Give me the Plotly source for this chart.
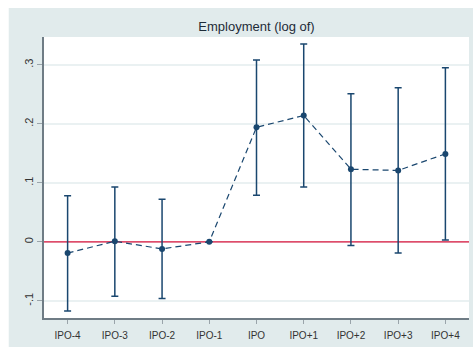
import plotly.graph_objects as go

categories = ["IPO-4", "IPO-3", "IPO-2", "IPO-1", "IPO", "IPO+1", "IPO+2", "IPO+3", "IPO+4"]
coef = [-0.019, 0.001, -0.012, 0.0, 0.194, 0.214, 0.123, 0.121, 0.149]
ci_hi = [0.078, 0.093, 0.072, None, 0.308, 0.335, 0.251, 0.261, 0.295]
ci_lo = [-0.117, -0.092, -0.096, None, 0.079, 0.093, -0.006, -0.019, 0.003]
ytick_vals = [-0.1, 0, 0.1, 0.2, 0.3]
ytick_text = ["-.1", "0", ".1", ".2", ".3"]
title_text = "Employment (log of)"
x_range = [-0.5, 8.5]
ref_value = 0.0

err_plus = [(h - c) if h is not None else None for h, c in zip(ci_hi, coef)]
err_minus = [(c - l) if l is not None else None for l, c in zip(ci_lo, coef)]

navy = "#1a476f"
red = "#dc143c"
bg = "#e1ebec"
font_family = "Liberation Sans, Arial, sans-serif"

fig = go.Figure()
# zero reference line (drawn first so it sits beneath the estimates)
fig.add_trace(go.Scatter(
    x=x_range, y=[ref_value, ref_value], mode="lines",
    line=dict(color=red, width=1.4), hoverinfo="skip", showlegend=False,
))
fig.add_trace(go.Scatter(
    x=list(range(len(categories))), y=coef,
    mode="lines+markers",
    line=dict(color=navy, width=1.2, dash="6px,4px"),
    marker=dict(color=navy, size=6),
    error_y=dict(type="data", array=err_plus, arrayminus=err_minus,
                 color=navy, thickness=1.5, width=3.5, symmetric=False),
    showlegend=False,
))

fig.update_layout(
    width=473, height=347,
    margin=dict(l=44, r=4, t=37, b=29),
    paper_bgcolor=bg,
    plot_bgcolor="white",
    font=dict(family=font_family, color="#333333"),
    title=dict(text=title_text, x=0.5, xref="paper", xanchor="center",
               y=1 - 26.7 / 347, yanchor="middle",
               font=dict(size=13, color="#1e2b38", family=font_family)),
    xaxis=dict(
        range=x_range,
        tickmode="array", tickvals=list(range(len(categories))), ticktext=categories,
        ticks="outside", ticklen=4, tickcolor="#9aa4aa", tickwidth=1,
        ticklabelstandoff=3,
        showgrid=False, zeroline=False,
        showline=True, linecolor="#6f7c85", linewidth=1.5,
        tickfont=dict(size=10, color="#333333"),
    ),
    yaxis=dict(
        range=[-0.129, 0.347],
        tickmode="array", tickvals=ytick_vals, ticktext=ytick_text,
        tickangle=-90,
        ticks="outside", ticklen=5, tickcolor="#9aa4aa", tickwidth=1,
        showgrid=True, gridcolor="#eaf1f2", gridwidth=1.5,
        zeroline=False,
        showline=True, linecolor="#6f7c85", linewidth=1.5,
        tickfont=dict(size=11, color="#333333"),
    ),
    shapes=[
        # white outer strips (left and top) outside the graph region
        dict(type="rect", xref="paper", yref="paper", x0=-0.2, x1=-0.083, y0=-0.2, y1=1.3,
             fillcolor="white", line=dict(width=0), layer="below"),
        dict(type="rect", xref="paper", yref="paper", x0=-0.2, x1=1.2, y0=1.103, y1=1.3,
             fillcolor="white", line=dict(width=0), layer="below"),
    ],
)

fig.write_html("out.html")
